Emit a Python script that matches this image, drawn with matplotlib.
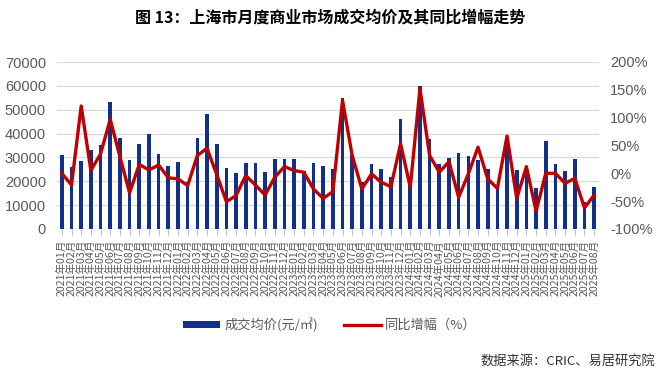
import matplotlib
matplotlib.use("Agg")
import matplotlib.pyplot as plt
from matplotlib.ticker import FuncFormatter, MultipleLocator
import numpy as np

plt.rcParams['font.family'] = ['Liberation Sans', 'Noto Sans CJK SC', 'DejaVu Sans']

months = [f"{y}年{m:02d}月" for y in range(2021, 2026) for m in range(1, 13)][:56]

price = [31000, 25900, 28500, 33000, 35300, 53400, 38300, 28900, 35800, 40000, 31600, 26400,
         28200, 19800, 38000, 48200, 35600, 25700, 23600, 27800, 27500, 24000, 29200, 29500,
         29500, 24200, 27800, 26400, 25000, 55100, 31100, 19600, 27300, 25200, 22000, 46100,
         21000, 60000, 37900, 27100, 29900, 32000, 30700, 28800, 25000, 18000, 36000, 24800,
         23400, 17100, 36900, 27100, 24300, 29500, 11500, 17500]

yoy = [0, -21, 121, 5, 35, 97, 30, -35, 16, 6, 15, -8,
       -10, -22, 32, 45, -2, -51, -40, -4, -21, -39, -7, 12,
       5, 2, -28, -45, -33, 131, 32, -28, -1, -16, -24, 53,
       -25, 152, 32, 2, 21, -43, -1, 47, -10, -27, 67, -45,
       12, -68, 0, 0, -18, -9, -62, -39]

bar_label = "成交均价(元/㎡)"
line_label = "同比增幅（%）"
title = "图 13：上海市月度商业市场成交均价及其同比增幅走势"
source = "数据来源：CRIC、易居研究院"

W, H = 660, 376
fig = plt.figure(figsize=(W / 100, H / 100), dpi=100)
ax = fig.add_axes([57 / W, 1 - 229 / H, (599 - 57) / W, (229 - 62) / H])
ax2 = ax.twinx()

x = np.arange(len(months))
bar_color = '#12308A'
line_color = '#C00000'
grid_color = '#D9D9D9'
tick_color = '#595959'

ax.bar(x, price, width=0.38, color=bar_color, zorder=2, label=bar_label)
ax2.plot(x, yoy, color=line_color, lw=2.4, zorder=3, label=line_label)

ax.set_xlim(-0.5, len(months) - 0.5)
ax.set_ylim(0, 70000)
ax.yaxis.set_major_locator(MultipleLocator(10000))
ax2.set_ylim(-100, 200)
ax2.yaxis.set_major_locator(MultipleLocator(50))
ax2.yaxis.set_major_formatter(FuncFormatter(lambda v, p: f"{v:.0f}%"))

ax.grid(axis='y', color=grid_color, lw=0.9, zorder=0)
ax.set_axisbelow(True)
for a in (ax, ax2):
    for s in ['top', 'left', 'right', 'bottom']:
        a.spines[s].set_visible(False)
ax.axhline(0, color='#BFBFBF', lw=0.9, zorder=1)

ax.tick_params(axis='y', length=0, labelsize=10.5, labelcolor=tick_color, pad=8)
ax2.tick_params(axis='y', length=0, labelsize=10.5, labelcolor=tick_color, pad=8)
ax.set_xticks(x)
ax.set_xticklabels(months, rotation=90, fontsize=7.6, color=tick_color,
                   family=['Noto Sans CJK SC', 'DejaVu Sans'])
ax.tick_params(axis='x', length=4, color='#BFBFBF', pad=4)

fig.text(0.5, 1 - 18 / H, title, ha='center', va='center', fontsize=11.5,
         fontweight='bold', family=['Noto Sans CJK SC', 'DejaVu Sans'])

h1, l1 = ax.get_legend_handles_labels()
h2, l2 = ax2.get_legend_handles_labels()
fig.legend(h1 + h2, l1 + l2, loc='center', bbox_to_anchor=(330 / W, 1 - 325 / H),
           ncol=2, frameon=False, handlelength=2.8, handleheight=0.4,
           columnspacing=2.0, handletextpad=0.3,
           prop={'family': ['Noto Sans CJK SC', 'DejaVu Sans'], 'size': 9.5},
           labelcolor=tick_color)

fig.text(655 / W, 1 - 362 / H, source, ha='right', va='center', fontsize=9.5,
         color='#333333', family=['Noto Sans CJK SC', 'DejaVu Sans'])

fig.savefig('out.png', dpi=100)
